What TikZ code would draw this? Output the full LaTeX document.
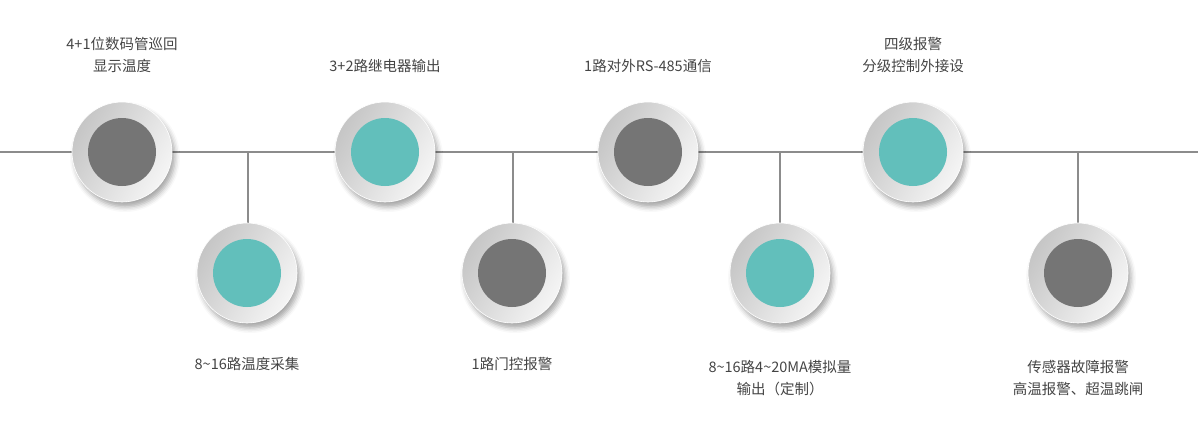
\documentclass[tikz,border=0pt]{standalone}
\usepackage{fontspec}
\setmainfont{Noto Sans CJK SC}
\usetikzlibrary{shadows.blur}
\definecolor{dgray}{HTML}{757575}
\definecolor{teal1}{HTML}{62BFBB}
\definecolor{linec}{HTML}{8C8C8C}
\definecolor{txt}{HTML}{444444}
\tikzset{
  ring/.style={circle,minimum size=100pt,inner sep=0pt,draw=white,line width=0.6pt,
    left color=gray!45,right color=gray!8,shading angle=60,
    blur shadow={shadow xshift=3pt,shadow yshift=-5pt,shadow blur radius=5pt,shadow opacity=35}},
  coreg/.style={circle,minimum size=68pt,inner sep=0pt,fill=dgray},
  coret/.style={circle,minimum size=68pt,inner sep=0pt,fill=teal1},
  conn/.style={draw=linec,line width=2pt},
  lbl/.style={text=txt,font=\fontsize{14.5pt}{22pt}\selectfont,align=center}
}
\begin{document}
\begin{tikzpicture}[x=1pt,y=-1pt]
\useasboundingbox (0,0) rectangle (1198,432);
\coordinate (L) at (0,152); \coordinate (R) at (1198,152);
\coordinate (j1) at (248,152); \coordinate (j2) at (513,152);
\coordinate (j3) at (780,152); \coordinate (j4) at (1078,152);
\draw[conn] (L) -- (R);
\draw[conn] (j1) -- (248,225);
\draw[conn] (j2) -- (513,225);
\draw[conn] (j3) -- (780,225);
\draw[conn] (j4) -- (1078,225);
\foreach \n/\x/\y/\c in {a/122/152/coreg,b/385/152/coret,c/648/152/coreg,d/913/152/coret,
  e/247/273/coret,f/512/273/coreg,g/780/273/coret,h/1078/273/coreg}{
  \node[ring] (\n) at (\x,\y) {};
  \node[\c] (\n c) at (\x,\y) {};
}
\node[lbl] (ta) at (122,55) {4+1位数码管巡回\\显示温度};
\node[lbl] (tb) at (385,66) {3+2路继电器输出};
\node[lbl] (tc) at (648,66) {1路对外RS-485通信};
\node[lbl] (td) at (913,55) {四级报警\\分级控制外接设};
\node[lbl] (te) at (247,364) {8\textasciitilde16路温度采集};
\node[lbl] (tf) at (512,364) {1路门控报警};
\node[lbl] (tg) at (780,378) {8\textasciitilde16路4\textasciitilde20MA模拟量\\输出（定制）};
\node[lbl] (th) at (1078,378) {传感器故障报警\\高温报警、超温跳闸};
\end{tikzpicture}
\end{document}
